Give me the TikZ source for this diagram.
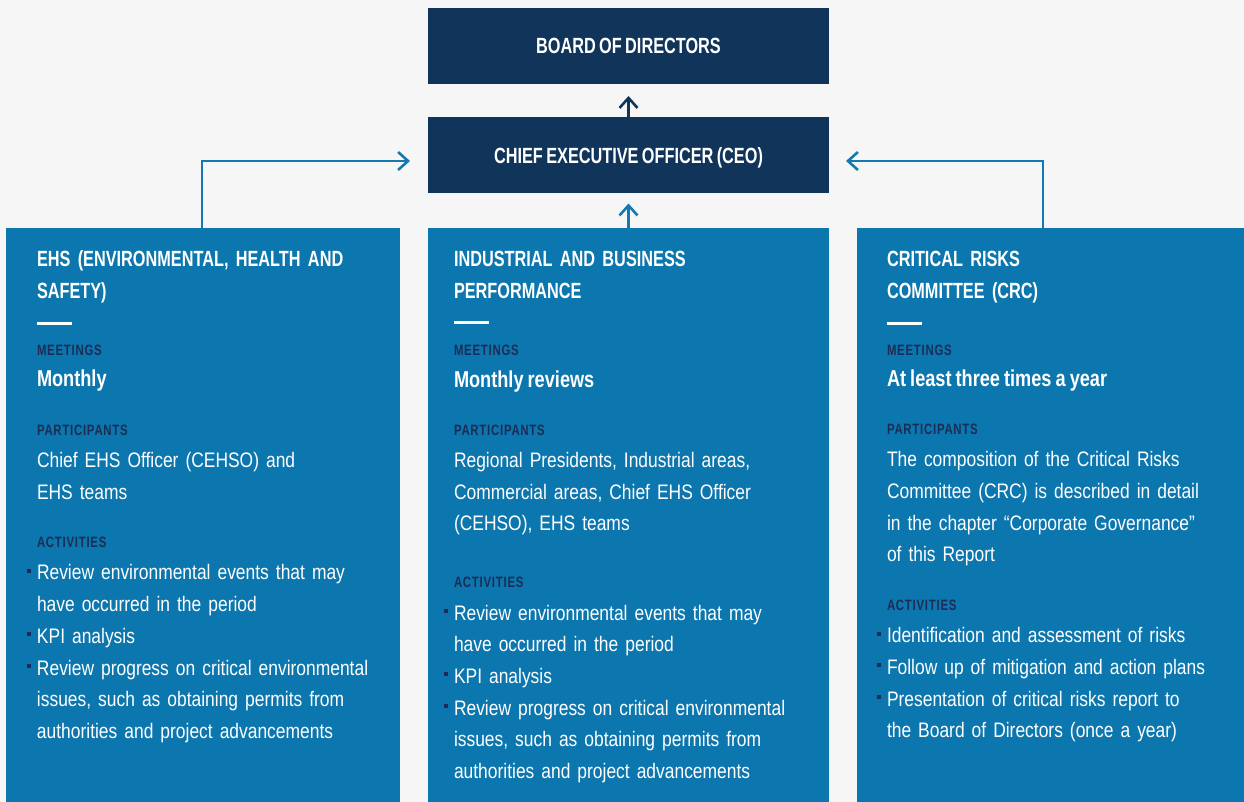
\documentclass[tikz,border=0pt]{standalone}
\usepackage{fontspec}
\setmainfont{Liberation Sans}[FakeStretch=0.83,WordSpace=0.8]
\newfontfamily\headfont{Liberation Sans}[FakeStretch=0.74,WordSpace=0.75]
\newfontfamily\valfont{Liberation Sans}[FakeStretch=0.79,WordSpace=0.8]
\newfontfamily\tagfont{Liberation Sans}[FakeStretch=0.76,LetterSpace=5]
\usetikzlibrary{arrows.meta}
\definecolor{paper}{HTML}{F6F6F6}
\definecolor{navy}{HTML}{10345A}
\definecolor{panel}{HTML}{0C76AE}
\definecolor{tagcol}{HTML}{1C2D55}
\definecolor{flowcol}{HTML}{1579B1}
\newcommand\bul{\makebox[0pt][r]{\textcolor{tagcol}{\rule[3.5pt]{2pt}{2pt}}\hspace{3pt}}}
\begin{document}
\begin{tikzpicture}
	[x=0.5pt,y=-0.5pt,
	every node/.style={inner sep=0pt,outer sep=0pt},
	topbox/.style={fill=navy,text=white,minimum width=200.5pt,minimum height=38pt,
		text height=7.9pt,text depth=0pt,
		font=\headfont\bfseries\fontsize{11}{13}\selectfont},
	panelbox/.style={fill=panel,minimum height=287pt},
	title/.style={anchor=base west,text=white,text width=190pt,align=left,
		font=\headfont\bfseries\fontsize{11}{16}\selectfont},
	tag/.style={anchor=base west,text=tagcol,font=\tagfont\bfseries\fontsize{7.5}{9}\selectfont},
	value/.style={anchor=base west,text=white,font=\valfont\bfseries\fontsize{11.5}{14}\selectfont},
	body/.style={anchor=base west,text=white,text width=190pt,align=left,
		font=\fontsize{10.5}{15.85}\selectfont},
	rulebar/.style={draw=white,line width=1.5pt},
	flow/.style={draw=flowcol,line width=1.3pt,-{Straight Barb[length=5pt,width=9pt]}}]
	\def\xa{37}\def\xb{454}\def\xc{887}
	\useasboundingbox (0,0) rectangle (1244,802);
	\fill[paper] (0,0) rectangle (1244,802);
	\node[topbox] (board) at (628.5,46)    {BOARD OF DIRECTORS};
	\node[topbox] (ceo)   at (628.5,155.5) {CHIEF EXECUTIVE OFFICER (CEO)};
	\node[panelbox,minimum width=197pt]   (ehs) at (203,515)    {};
	\node[panelbox,minimum width=200.5pt] (ibp) at (628.5,515)  {};
	\node[panelbox,minimum width=193.5pt] (crc) at (1050.5,515) {};
	\coordinate (lbend) at (202,161);
	\coordinate (rbend) at (1043,161);
	\draw[flow,draw=navy,shorten >=6pt] (ceo.north) -- (board.south);
	\draw[flow,shorten >=5pt] (ibp.north) -- (ceo.south);
	\draw[flow,shorten >=9pt] (ehs.north -| lbend) |- (ceo.west |- lbend);
	\draw[flow,shorten >=8.5pt] (crc.north -| rbend) |- (ceo.east |- rbend);
	\node[title] (ehshead) at (\xa,267)   {EHS (ENVIRONMENTAL, HEALTH AND\\SAFETY)};
	\draw[rulebar] (\xa,323.5) -- ++(35,0);
	\node[tag]   (ehsmeet) at (\xa,356)   {MEETINGS};
	\node[value] (ehsfreq) at (\xa,387)   {Monthly};
	\node[tag]   (ehspart) at (\xa,436)   {PARTICIPANTS};
	\node[body]  (ehswho)  at (\xa,467.5) {Chief EHS Officer (CEHSO) and\\EHS teams};
	\node[tag]   (ehsact)  at (\xa,548)   {ACTIVITIES};
	\node[body]  (ehsdo)   at (\xa,580)   {\bul Review environmental events that may\\have occurred in the period\\\bul KPI analysis\\\bul Review progress on critical environmental\\issues, such as obtaining permits from\\authorities and project advancements};
	\node[title] (ibphead) at (\xb,267)   {INDUSTRIAL AND BUSINESS\\PERFORMANCE};
	\draw[rulebar] (\xb,323) -- ++(35,0);
	\node[tag]   (ibpmeet) at (\xb,356)   {MEETINGS};
	\node[value] (ibpfreq) at (\xb,387.5) {Monthly reviews};
	\node[tag]   (ibppart) at (\xb,436)   {PARTICIPANTS};
	\node[body]  (ibpwho)  at (\xb,467.5) {Regional Presidents, Industrial areas,\\Commercial areas, Chief EHS Officer\\(CEHSO), EHS teams};
	\node[tag]   (ibpact)  at (\xb,587.5) {ACTIVITIES};
	\node[body]  (ibpdo)   at (\xb,620)   {\bul Review environmental events that may\\have occurred in the period\\\bul KPI analysis\\\bul Review progress on critical environmental\\issues, such as obtaining permits from\\authorities and project advancements};
	\node[title] (crchead) at (\xc,266.7) {CRITICAL RISKS\\COMMITTEE (CRC)};
	\draw[rulebar] (\xc,323.5) -- ++(35,0);
	\node[tag]   (crcmeet) at (\xc,355.5) {MEETINGS};
	\node[value] (crcfreq) at (\xc,386.7) {At least three times a year};
	\node[tag]   (crcpart) at (\xc,434.5) {PARTICIPANTS};
	\node[body]  (crcwho)  at (\xc,466.7) {The composition of the Critical Risks\\Committee (CRC) is described in detail\\in the chapter “Corporate Governance”\\of this Report};
	\node[tag]   (crcact)  at (\xc,610.7) {ACTIVITIES};
	\node[body]  (crcdo)   at (\xc,642.7) {\bul Identification and assessment of risks\\\bul Follow up of mitigation and action plans\\\bul Presentation of critical risks report to\\the Board of Directors (once a year)};
\end{tikzpicture}
\end{document}
